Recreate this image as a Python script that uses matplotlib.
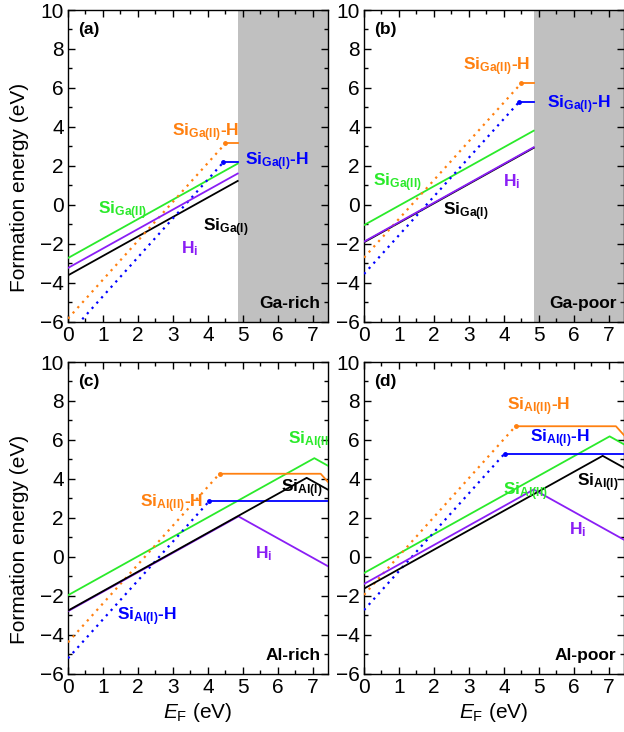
import matplotlib
matplotlib.use("Agg")
import matplotlib.pyplot as plt
from matplotlib.ticker import MultipleLocator

plt.rcParams['font.family'] = ['Liberation Sans', 'DejaVu Sans']
plt.rcParams['mathtext.fontset'] = 'custom'
plt.rcParams['mathtext.rm'] = 'Liberation Sans'
plt.rcParams['mathtext.it'] = 'Liberation Sans:italic'
plt.rcParams['mathtext.bf'] = 'Liberation Sans:bold'

# colours
C_SI1 = 'black'
C_SI2 = '#2AEA2A'
C_HI = '#8A1EF5'
C_SI2H = '#FF8010'
C_SI1H = '#0000FF'

X_MAX = 7.43
GAP_GA = 4.85

# ---- (a) Ga-rich ----
a_si1_x, a_si1_y = [0, 4.85], [-3.63, 1.22]
a_si2_x, a_si2_y = [0, 4.85], [-2.74, 2.11]
a_hi_x, a_hi_y = [0, 4.85], [-3.25, 1.6]
a_si2h_dot_x, a_si2h_dot_y = [0, 4.5], [-5.85, 3.15]
a_si2h_x, a_si2h_y = [4.5, 4.85], [3.15, 3.15]
a_si1h_dot_x, a_si1h_dot_y = [0, 4.44], [-6.7, 2.18]
a_si1h_x, a_si1h_y = [4.44, 4.85], [2.18, 2.18]

# ---- (b) Ga-poor ----
b_si1_x, b_si1_y = [0, 4.85], [-1.93, 2.92]
b_si2_x, b_si2_y = [0, 4.85], [-1.05, 3.8]
b_hi_x, b_hi_y = [0, 4.85], [-1.9, 2.95]
b_si2h_dot_x, b_si2h_dot_y = [0, 4.5], [-2.72, 6.25]
b_si2h_x, b_si2h_y = [4.5, 4.85], [6.25, 6.25]
b_si1h_dot_x, b_si1h_dot_y = [0, 4.43], [-3.56, 5.27]
b_si1h_x, b_si1h_y = [4.43, 4.85], [5.27, 5.27]

# ---- (c) Al-rich ----
c_si1_x, c_si1_y = [0, 6.82, 7.43], [-2.77, 4.05, 3.44]
c_si2_x, c_si2_y = [0, 7.04, 7.43], [-1.98, 5.06, 4.67]
c_hi_x, c_hi_y = [0, 4.87, 7.43], [-2.8, 2.07, -0.49]
c_si2h_dot_x, c_si2h_dot_y = [0, 4.33], [-4.4, 4.26]
c_si2h_x, c_si2h_y = [4.33, 7.22, 7.43], [4.26, 4.26, 3.84]
c_si1h_dot_x, c_si1h_dot_y = [0, 4.04], [-5.22, 2.86]
c_si1h_x, c_si1h_y = [4.04, 7.43], [2.86, 2.86]

# ---- (d) Al-poor ----
d_si1_x, d_si1_y = [0, 6.82, 7.43], [-1.64, 5.18, 4.57]
d_si2_x, d_si2_y = [0, 7.02, 7.43], [-0.84, 6.18, 5.77]
d_hi_x, d_hi_y = [0, 4.85, 7.43], [-1.4, 3.45, 0.87]
d_si2h_dot_x, d_si2h_dot_y = [0, 4.33], [-1.96, 6.7]
d_si2h_x, d_si2h_y = [4.33, 7.2, 7.43], [6.7, 6.7, 6.24]
d_si1h_dot_x, d_si1h_dot_y = [0, 4.02], [-2.74, 5.3]
d_si1h_x, d_si1h_y = [4.02, 7.43], [5.3, 5.3]

fig = plt.figure(figsize=(6.24, 7.32), dpi=100)
W, H = 624, 732


def make_ax(left, top):
    # pixel box -> figure fraction
    ax = fig.add_axes([left / W, 1 - (top + 311.5) / H, 260 / W, 311.5 / H])
    ax.set_xlim(0, X_MAX)
    ax.set_ylim(-6, 10)
    ax.xaxis.set_major_locator(MultipleLocator(1))
    ax.xaxis.set_minor_locator(MultipleLocator(0.5))
    ax.yaxis.set_major_locator(MultipleLocator(2))
    ax.yaxis.set_minor_locator(MultipleLocator(1))
    ax.tick_params(which='both', direction='in', top=True, right=True,
                   labelsize=15, width=1)
    ax.tick_params(which='major', length=5, pad=3)
    ax.tick_params(which='minor', length=3)
    for s in ax.spines.values():
        s.set_linewidth(1)
    return ax


def draw(ax, si1, si2, hi, si2h_dot, si2h, si1h_dot, si1h, purple_top):
    lw = 1.3
    ax.plot(*si2, color=C_SI2, lw=lw, zorder=3)
    ax.plot(*si1, color=C_SI1, lw=lw, zorder=5 if not purple_top else 3)
    ax.plot(*hi, color=C_HI, lw=lw, zorder=4)
    ax.plot(*si2h_dot, color=C_SI2H, lw=1.6, ls=(0, (1, 2.2)), zorder=3)
    ax.plot(*si1h_dot, color=C_SI1H, lw=1.6, ls=(0, (1, 2.2)), zorder=3)
    ax.plot(*si2h, color=C_SI2H, lw=lw, zorder=3)
    ax.plot(si2h[0][0], si2h[1][0], 'o', color=C_SI2H, ms=2.5, zorder=3)
    ax.plot(*si1h, color=C_SI1H, lw=lw, zorder=3)
    ax.plot(si1h[0][0], si1h[1][0], 'o', color=C_SI1H, ms=2.5, zorder=3)


def lab(ax, x, y, s, c, ha='left'):
    ax.text(x, y, s, color=c, fontsize=12.5, fontweight='bold', ha=ha,
            va='center', zorder=6, clip_on=True)


ax_a = make_ax(68, 10)
ax_b = make_ax(364, 10)
ax_c = make_ax(68, 362)
ax_d = make_ax(364, 362)

for ax in (ax_a, ax_b):
    ax.axvspan(GAP_GA, X_MAX, color='#C0C0C0', lw=0, zorder=1)

draw(ax_a, (a_si1_x, a_si1_y), (a_si2_x, a_si2_y), (a_hi_x, a_hi_y),
     (a_si2h_dot_x, a_si2h_dot_y), (a_si2h_x, a_si2h_y),
     (a_si1h_dot_x, a_si1h_dot_y), (a_si1h_x, a_si1h_y), True)
draw(ax_b, (b_si1_x, b_si1_y), (b_si2_x, b_si2_y), (b_hi_x, b_hi_y),
     (b_si2h_dot_x, b_si2h_dot_y), (b_si2h_x, b_si2h_y),
     (b_si1h_dot_x, b_si1h_dot_y), (b_si1h_x, b_si1h_y), True)
draw(ax_c, (c_si1_x, c_si1_y), (c_si2_x, c_si2_y), (c_hi_x, c_hi_y),
     (c_si2h_dot_x, c_si2h_dot_y), (c_si2h_x, c_si2h_y),
     (c_si1h_dot_x, c_si1h_dot_y), (c_si1h_x, c_si1h_y), False)
draw(ax_d, (d_si1_x, d_si1_y), (d_si2_x, d_si2_y), (d_hi_x, d_hi_y),
     (d_si2h_dot_x, d_si2h_dot_y), (d_si2h_x, d_si2h_y),
     (d_si1h_dot_x, d_si1h_dot_y), (d_si1h_x, d_si1h_y), False)

# labels (a)
lab(ax_a, 2.97, 3.72, r'Si$_{\mathbf{Ga(II)}}$-H', C_SI2H)
lab(ax_a, 5.06, 2.22, r'Si$_{\mathbf{Ga(I)}}$-H', C_SI1H)
lab(ax_a, 0.86, -0.33, r'Si$_{\mathbf{Ga(II)}}$', C_SI2)
lab(ax_a, 3.86, -1.2, r'Si$_{\mathbf{Ga(I)}}$', C_SI1)
lab(ax_a, 3.23, -2.24, r'H$_{\mathbf{i}}$', C_HI)
# labels (b)
lab(ax_b, 2.82, 7.1, r'Si$_{\mathbf{Ga(II)}}$-H', C_SI2H)
lab(ax_b, 5.22, 5.13, r'Si$_{\mathbf{Ga(I)}}$-H', C_SI1H)
lab(ax_b, 0.25, 1.13, r'Si$_{\mathbf{Ga(II)}}$', C_SI2)
lab(ax_b, 2.25, -0.38, r'Si$_{\mathbf{Ga(I)}}$', C_SI1)
lab(ax_b, 3.97, 1.16, r'H$_{\mathbf{i}}$', C_HI)
# labels (c)
lab(ax_c, 2.06, 2.72, r'Si$_{\mathbf{Al(II)}}$-H', C_SI2H)
lab(ax_c, 1.4, -3.1, r'Si$_{\mathbf{Al(I)}}$-H', C_SI1H)
lab(ax_c, 6.29, 5.98, r'Si$_{\mathbf{Al(II)}}$', C_SI2)
lab(ax_c, 6.08, 3.51, r'Si$_{\mathbf{Al(I)}}$', C_SI1)
lab(ax_c, 5.34, 0.15, r'H$_{\mathbf{i}}$', C_HI)
# labels (d)
lab(ax_d, 4.1, 7.69, r'Si$_{\mathbf{Al(II)}}$-H', C_SI2H)
lab(ax_d, 4.73, 6.06, r'Si$_{\mathbf{Al(I)}}$-H', C_SI1H)
lab(ax_d, 3.96, 3.32, r'Si$_{\mathbf{Al(II)}}$', C_SI2)
lab(ax_d, 6.08, 3.8, r'Si$_{\mathbf{Al(I)}}$', C_SI1)
lab(ax_d, 5.85, 1.39, r'H$_{\mathbf{i}}$', C_HI)

for ax, tag, cond in ((ax_a, '(a)', 'Ga-rich'), (ax_b, '(b)', 'Ga-poor'),
                      (ax_c, '(c)', 'Al-rich'), (ax_d, '(d)', 'Al-poor')):
    ax.text(0.3, 9.0, tag, fontsize=12.5, fontweight='bold', va='center', zorder=6)
    ax.text(7.22, -5.1, cond, fontsize=12.5, fontweight='bold', ha='right',
            va='center', zorder=6)

for ax in (ax_a, ax_c):
    ax.set_ylabel('Formation energy (eV)', fontsize=15, va='center')
    ax.yaxis.set_label_coords(-0.185, 0.43)
for ax in (ax_c, ax_d):
    ax.set_xlabel(r'$E_\mathrm{F}$ (eV)', fontsize=15, labelpad=3)

fig.savefig('out.png', dpi=100)
